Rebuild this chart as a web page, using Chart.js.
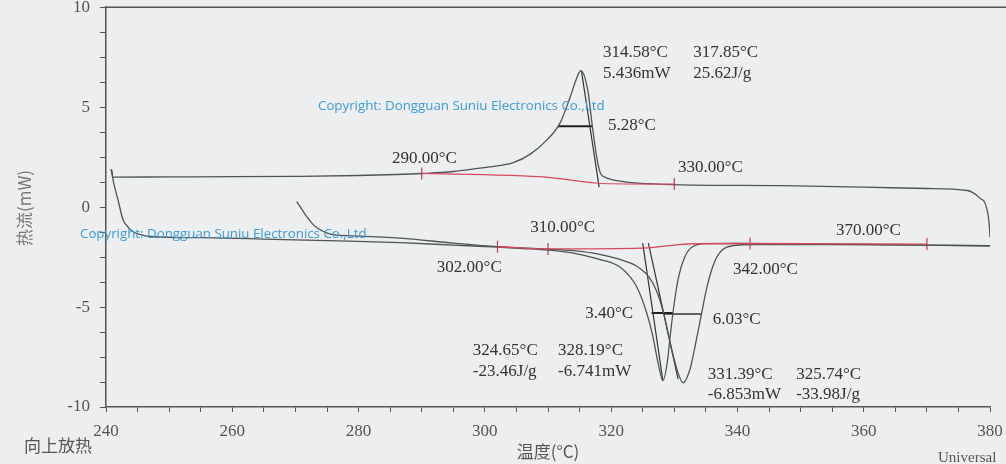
<!DOCTYPE html>
<html>
<head>
<meta charset="utf-8">
<script src="https://cdn.jsdelivr.net/npm/chart.js@4"></script>
<style>
  body { margin: 0; background: #eceeef; }
  #wrap { width: 1006px; height: 464px; position: relative; }
</style>
</head>
<body>
<div id="wrap"><canvas id="dscChart"></canvas></div>
<script>
// first heating run (exotherm up)
const tempA = [240.9, 241.1, 250, 260, 270, 280, 286, 290, 295, 299.2, 302, 304.5, 307.2, 309.8, 311.9, 313.5, 314.6, 315.2, 316.3, 317.1, 317.8, 318.3, 319, 320.3, 322.5, 325.7, 331, 347, 360, 370, 376.4, 378.4, 379.5, 380, 380.1];
const heatA = [1.88, 1.5, 1.51, 1.52, 1.54, 1.58, 1.63, 1.68, 1.78, 1.95, 2.06, 2.22, 2.65, 3.35, 4.2, 5.5, 6.5, 6.83, 5.85, 3.85, 2.35, 1.7, 1.5, 1.36, 1.25, 1.17, 1.11, 1.07, 1.0, 0.93, 0.83, 0.45, -0.1, -1.5, -2.6];

// melting run 1
const tempB = [240.8, 241.3, 241.9, 242.7, 243.5, 244.3, 245.5, 247, 255, 265, 275, 286.6, 295, 302, 306, 310, 314, 318, 321.4, 324, 325.6, 326.6, 327.4, 328.2, 328.9, 329.3, 329.8, 330.6, 331.7, 332.9, 335.2, 340, 350, 360, 370, 380];
const heatB = [1.9, 1.1, 0.36, -0.63, -1.0, -1.23, -1.38, -1.47, -1.53, -1.6, -1.68, -1.78, -1.9, -2.0, -2.07, -2.15, -2.3, -2.6, -3.0, -3.96, -5.26, -6.45, -7.75, -8.68, -7.75, -6.6, -5.26, -3.62, -2.47, -1.98, -1.83, -1.82, -1.85, -1.87, -1.9, -1.95];

// melting run 2
const tempC = [270.2, 271, 271.8, 272.6, 273.4, 276, 280, 286.6, 295, 302, 310, 314, 318, 321.4, 324, 326, 327.2, 328.3, 329.5, 330.5, 331.4, 332.5, 333.3, 334.3, 335.1, 336.1, 337.2, 339.3, 342.5, 350, 360, 370, 380];
const heatC = [0.27, -0.1, -0.48, -0.8, -1.03, -1.38, -1.45, -1.55, -1.8, -1.98, -2.1, -2.18, -2.35, -2.62, -2.95, -3.5, -4.2, -5.3, -7.0, -8.2, -8.79, -8.1, -6.95, -5.36, -4.1, -2.97, -2.28, -1.93, -1.87, -1.87, -1.88, -1.9, -1.93];

// integration baselines
const baseTopT = [290, 300, 308.7, 317, 318.1, 330];
const baseTopV = [1.68, 1.62, 1.52, 1.22, 1.18, 1.15];
const baseLowT = [302, 310, 325, 330, 333, 342, 370];
const baseLowV = [-1.98, -2.09, -2.05, -1.9, -1.83, -1.82, -1.85];
const limitT = [290, 330, 302, 310, 342, 370];
const limitV = [1.68, 1.15, -1.98, -2.09, -1.82, -1.85];

// onset tangents and half-width bars, as [x1, x2] / [y1, y2]
const tangentTopT = [315.3, 318.1], tangentTopV = [6.8, 1.0];
const tangentBT = [325.0, 328.2], tangentBV = [-1.8, -8.7];
const tangentCT = [325.9, 330.6], tangentCV = [-1.8, -8.6];
const widthTopT = [311.6, 317.1], widthTopV = [4.04, 4.04];
const widthBT = [326.4, 329.8], widthBV = [-5.3, -5.3];
const widthCT = [328.3, 334.3], widthCV = [-5.35, -5.35];

// result labels
const noteText = ["314.58°C", "5.436mW", "317.85°C", "25.62J/g", "5.28°C", "290.00°C", "330.00°C",
  "310.00°C", "302.00°C", "342.00°C", "370.00°C", "3.40°C", "6.03°C",
  "324.65°C", "-23.46J/g", "328.19°C", "-6.741mW", "331.39°C", "-6.853mW", "325.74°C", "-33.98J/g"];
const noteX = [318.7, 318.7, 333.0, 333.0, 319.5, 285.3, 330.6, 307.2, 292.4, 339.3, 355.6, 315.9, 336.1,
  298.1, 298.1, 311.6, 311.6, 335.3, 335.3, 349.3, 349.3];
const noteY = [7.75, 6.7, 7.75, 6.7, 4.1, 2.45, 2.0, -1.03, -3.0, -3.1, -1.18, -5.3, -5.6,
  -7.2, -8.24, -7.2, -8.24, -8.39, -9.39, -8.39, -9.39];

const watermark = "Copyright: Dongguan Suniu Electronics Co.,Ltd";

function pts(xs, ys) {
    return xs.map((x, i) => ({ x: x, y: ys[i] }));
}

const curveColor = "#4f5454";
const redColor = "#d8495f";

function curve(xs, ys, color, width) {
    return {
        data: pts(xs, ys),
        showLine: true,
        borderColor: color,
        borderWidth: width,
        pointRadius: 0,
        cubicInterpolationMode: "monotone"
    };
}

const extras = {
    id: "extras",
    beforeDraw(chart) {
        const c = chart.ctx;
        c.save();
        c.fillStyle = "#eceeef";
        c.fillRect(0, 0, chart.width, chart.height);
        c.restore();
    },
    afterDraw(chart) {
        const c = chart.ctx;
        const xs = chart.scales.x, ys = chart.scales.y;
        const area = chart.chartArea;
        c.save();

        // top frame line
        c.strokeStyle = "#555";
        c.lineWidth = 1.5;
        c.beginPath();
        c.moveTo(area.left, area.top);
        c.lineTo(chart.width, area.top);
        c.stroke();

        // result labels
        c.fillStyle = "#333";
        c.font = "17px 'Liberation Serif'";
        c.textBaseline = "middle";
        c.textAlign = "left";
        noteText.forEach((t, i) => {
            c.fillText(t, xs.getPixelForValue(noteX[i]), ys.getPixelForValue(noteY[i]));
        });

        // watermarks
        c.fillStyle = "#3c9bd8";
        let size = 14;
        c.font = size + "px 'Open Sans'";
        size = size * 287 / c.measureText(watermark).width;
        c.font = size + "px 'Open Sans'";
        c.fillText(watermark, 318, 106);
        c.fillText(watermark, 80, 234);

        // axis captions
        c.fillStyle = "#555";
        c.font = "17px 'Noto Sans CJK SC'";
        c.textAlign = "center";
        c.fillText("向上放热", 58, 446);
        c.fillText("温度(°C)", (area.left + area.right) / 2, 452);
        c.font = "15px 'Liberation Serif'";
        c.textAlign = "left";
        c.fillText("Universal", 938, 458);

        c.translate(25, 208);
        c.rotate(-Math.PI / 2);
        c.textAlign = "center";
        c.font = "17px 'Noto Sans CJK SC'";
        c.fillStyle = "#777";
        c.fillText("热流(mW)", 0, 0);
        c.restore();
    }
};

const tickFont = { family: "'Liberation Serif'", size: 17 };

new Chart(document.getElementById("dscChart"), {
    type: "scatter",
    data: {
        datasets: [
            curve(baseTopT, baseTopV, redColor, 1.2),
            curve(baseLowT, baseLowV, redColor, 1.4),
            curve(tempA, heatA, curveColor, 1.3),
            curve(tempB, heatB, curveColor, 1.3),
            curve(tempC, heatC, curveColor, 1.3),
            curve(tangentTopT, tangentTopV, "#333", 1.2),
            curve(tangentBT, tangentBV, "#333", 1.2),
            curve(tangentCT, tangentCV, "#333", 1.2),
            curve(widthTopT, widthTopV, "#222", 2),
            curve(widthBT, widthBV, "#222", 2),
            curve(widthCT, widthCV, "#333", 1.4),
            {
                data: pts(limitT, limitV),
                showLine: false,
                pointStyle: "line",
                rotation: 90,
                pointRadius: 6,
                borderColor: "#c23d52",
                borderWidth: 1.2
            }
        ]
    },
    options: {
        responsive: true,
        maintainAspectRatio: false,
        animation: false,
        layout: { padding: { top: 5, right: 16, left: 0, bottom: 0 } },
        plugins: {
            legend: { display: false },
            tooltip: { enabled: false }
        },
        scales: {
            x: {
                type: "linear",
                min: 240,
                max: 380,
                afterFit: s => { s.height = 57; s.paddingLeft = 0; s.paddingRight = 0; },
                grid: { drawOnChartArea: false, drawTicks: true, tickLength: 5, color: "#555" },
                border: { color: "#555", width: 1.5 },
                ticks: {
                    stepSize: 5,
                    autoSkip: false,
                    maxRotation: 0,
                    padding: 9,
                    color: "#555",
                    font: tickFont,
                    callback: v => (v % 20 === 0 ? v : "")
                }
            },
            y: {
                min: -10,
                max: 10,
                afterFit: s => { s.width = 106; s.paddingTop = 0; s.paddingBottom = 0; },
                grid: { drawOnChartArea: false, drawTicks: true, tickLength: 6, color: "#555" },
                border: { color: "#555", width: 1.5 },
                ticks: {
                    stepSize: 1.25,
                    autoSkip: false,
                    padding: 10,
                    color: "#555",
                    font: tickFont,
                    callback: v => (v % 5 === 0 ? v : "")
                }
            }
        }
    },
    plugins: [extras]
});
</script>
</body>
</html>
